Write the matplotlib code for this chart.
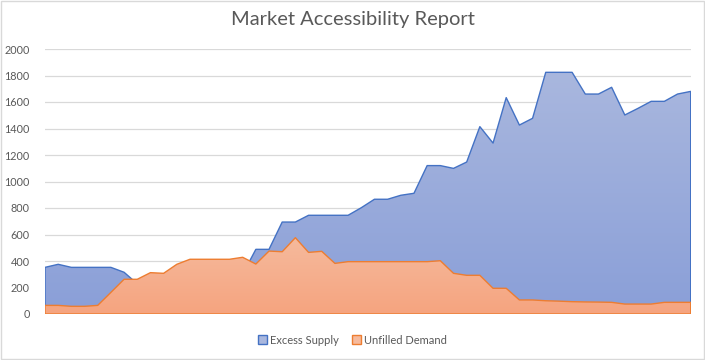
import numpy as np
import matplotlib
matplotlib.use("Agg")
import matplotlib.pyplot as plt
from matplotlib.colors import LinearSegmentedColormap
from matplotlib.patches import Rectangle

plt.rcParams['font.family'] = ['Lato', 'DejaVu Sans']

title = "Market Accessibility Report"
series_names = ["Excess Supply", "Unfilled Demand"]

# one value per period
excess_supply = [352, 375, 352, 352, 352, 352, 315, 228, 240, 245,
                 262, 270, 285, 290, 300, 300, 488, 488, 694, 694,
                 745, 745, 745, 745, 802, 866, 866, 896, 911, 1120,
                 1120, 1099, 1147, 1414, 1290, 1633, 1426, 1477, 1824, 1824,
                 1824, 1660, 1660, 1711, 1502, 1552, 1605, 1605, 1660, 1680]
unfilled_demand = [65, 65, 58, 58, 65, 163, 262, 262, 312, 307,
                   375, 413, 413, 413, 413, 428, 377, 475, 470, 576,
                   465, 473, 382, 395, 395, 395, 395, 395, 395, 395,
                   402, 307, 292, 292, 194, 194, 106, 106, 100, 97,
                   93, 91, 90, 88, 75, 75, 75, 88, 88, 88]
yticks = [0, 200, 400, 600, 800, 1000, 1200, 1400, 1600, 1800, 2000]

line_colors = ["#4472C4", "#ED7D31"]
grad_colors = [("#8a9fd8", "#a9b7de"), ("#f5a47f", "#f6ba9d")]
text_gray = "#595959"

fig = plt.figure(figsize=(7.05, 3.6), dpi=100)
ax = fig.add_axes([45 / 705, 46 / 360, 645.7 / 705, 265 / 360])

x = np.arange(len(excess_supply))
for i, vals in enumerate([excess_supply, unfilled_demand]):
    vals = np.array(vals)
    z = 2 * i + 1
    outline = ax.fill_between(x, 0, vals, facecolor="none",
                              edgecolor=line_colors[i], lw=1.0, zorder=z + 1)
    cmap = LinearSegmentedColormap.from_list("g%d" % i, grad_colors[i])
    grad = np.linspace(0, 1, 256).reshape(-1, 1)
    im = ax.imshow(grad, cmap=cmap, origin="lower", aspect="auto",
                   extent=(x[0], x[-1], 0, vals.max()), zorder=z,
                   interpolation="bilinear")
    im.set_clip_path(outline.get_paths()[0], transform=ax.transData)

ax.set_xlim(0, len(x) - 1)
ax.set_ylim(0, 2000)
ax.set_yticks(yticks)
ax.set_xticks([])
ax.grid(axis="y", color="#d9d9d9", lw=0.9, zorder=0)
ax.set_axisbelow(True)
for s in ax.spines.values():
    s.set_visible(False)
ax.tick_params(axis="y", length=0, pad=11, labelsize=7.8, labelcolor=text_gray)

fig.text(0.5, 1 - 19 / 360, title, ha="center", va="center",
         fontsize=14.5, color=text_gray)

handles = [Rectangle((0, 0), 1, 1, facecolor=grad_colors[i][1],
                     edgecolor=line_colors[i], lw=1) for i in range(2)]
fig.legend(handles, series_names, loc="center", bbox_to_anchor=(0.5, 1 - 340 / 360),
           ncol=2, frameon=False, fontsize=8, labelcolor=text_gray,
           handlelength=0.8, handleheight=0.8, handletextpad=0.3, columnspacing=1.2)

fig.patches.append(Rectangle((0.001, 0.002), 0.997, 0.995, transform=fig.transFigure,
                             fill=False, edgecolor="#d9d9d9", lw=1))

fig.savefig("out.png", dpi=100)
